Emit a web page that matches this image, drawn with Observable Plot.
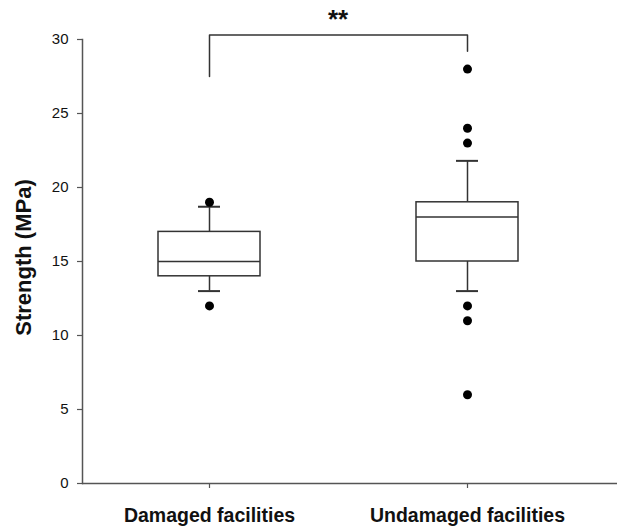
<!DOCTYPE html>
<html>
<head>
<meta charset="utf-8">
<script src="https://cdn.jsdelivr.net/npm/d3@7"></script>
<script src="https://cdn.jsdelivr.net/npm/@observablehq/plot@0.6"></script>
<style>
  html, body { margin: 0; padding: 0; background: #fff; }
  #chart svg { display: block; }
</style>
</head>
<body>
<div id="chart"></div>
<script>
// Categories
const categories = ["Damaged facilities", "Undamaged facilities"];
// Box statistics (MPa)
const whiskerLow  = [13, 13];
const q1          = [14, 15];
const median      = [15, 18];
const q3          = [17, 19];
const whiskerHigh = [18.7, 21.8];
// Outliers
const outlierGroup = ["Damaged facilities", "Damaged facilities",
  "Undamaged facilities", "Undamaged facilities", "Undamaged facilities",
  "Undamaged facilities", "Undamaged facilities", "Undamaged facilities"];
const outlierValue = [19, 12, 28, 24, 23, 12, 11, 6];
// Significance bracket
const bracketX = ["Damaged facilities", "Damaged facilities", "Undamaged facilities", "Undamaged facilities"];
const bracketY = [27.5, 30.3, 30.3, 29.2];
const sigLabel = "**";
// Y ticks
const yTicks = [0, 5, 10, 15, 20, 25, 30];
const yLabel = "Strength (MPa)";

const boxes = categories.map((c, i) => ({
  cat: c, lo: whiskerLow[i], q1: q1[i], med: median[i], q3: q3[i], hi: whiskerHigh[i]
}));
const outliers = outlierValue.map((v, i) => ({cat: outlierGroup[i], v}));
const bracket = bracketX.map((x, i) => ({x, y: bracketY[i]}));

const font = "'Liberation Sans', Arial, sans-serif";
const lineColor = "#333";

const chart = Plot.plot({
  width: 617,
  height: 529,
  marginLeft: 82,
  marginRight: 0,
  marginTop: 39,
  marginBottom: 46,
  style: {fontFamily: font, color: "#111", background: "#fff"},
  x: {type: "band", domain: categories, range: [80, 595], paddingInner: 0.6047, paddingOuter: 0.3},
  y: {domain: [0, 30]},
  marks: [
    // axes
    Plot.axisY({ticks: yTicks, tickSize: 5, tickPadding: 9, fontSize: 15, label: null, stroke: "#555", strokeWidth: 1.2}),
    Plot.axisX({tickSize: 5, tickPadding: 20, fontSize: 19.5, fontWeight: "bold", label: null, stroke: "#555", strokeWidth: 1.2}),
    Plot.frame({anchor: "left", stroke: "#555", strokeWidth: 1.5}),
    Plot.ruleY([0], {stroke: "#555", strokeWidth: 1.5}),
    // y label
    Plot.text([yLabel], {frameAnchor: "left", textAnchor: "middle", rotate: -90, dx: -59, dy: -4, fontSize: 22, fontWeight: "bold", fill: "#111"}),
    // whiskers
    Plot.ruleX(boxes, {x: "cat", y1: "lo", y2: "q1", stroke: lineColor, strokeWidth: 1.5}),
    Plot.ruleX(boxes, {x: "cat", y1: "q3", y2: "hi", stroke: lineColor, strokeWidth: 1.5}),
    Plot.tickY(boxes, {x: "cat", y: "lo", insetLeft: 40, insetRight: 40, stroke: lineColor, strokeWidth: 2}),
    Plot.tickY(boxes, {x: "cat", y: "hi", insetLeft: 40, insetRight: 40, stroke: lineColor, strokeWidth: 2}),
    // boxes
    Plot.barY(boxes, {x: "cat", y1: "q1", y2: "q3", fill: "#fff", stroke: lineColor, strokeWidth: 1.5}),
    Plot.tickY(boxes, {x: "cat", y: "med", stroke: lineColor, strokeWidth: 1.5}),
    // outliers
    Plot.dot(outliers, {x: "cat", y: "v", r: 4.5, fill: "#000", stroke: "none"}),
    // significance bracket
    Plot.line(bracket, {x: "x", y: "y", stroke: lineColor, strokeWidth: 1.5}),
    Plot.text([sigLabel], {x: () => categories[0], y: () => bracketY[1], dx: 128.5, dy: -7, fontSize: 26, fontWeight: "bold", fill: "#111", lineAnchor: "bottom"})
  ]
});
document.getElementById("chart").appendChild(chart);
</script>
</body>
</html>
